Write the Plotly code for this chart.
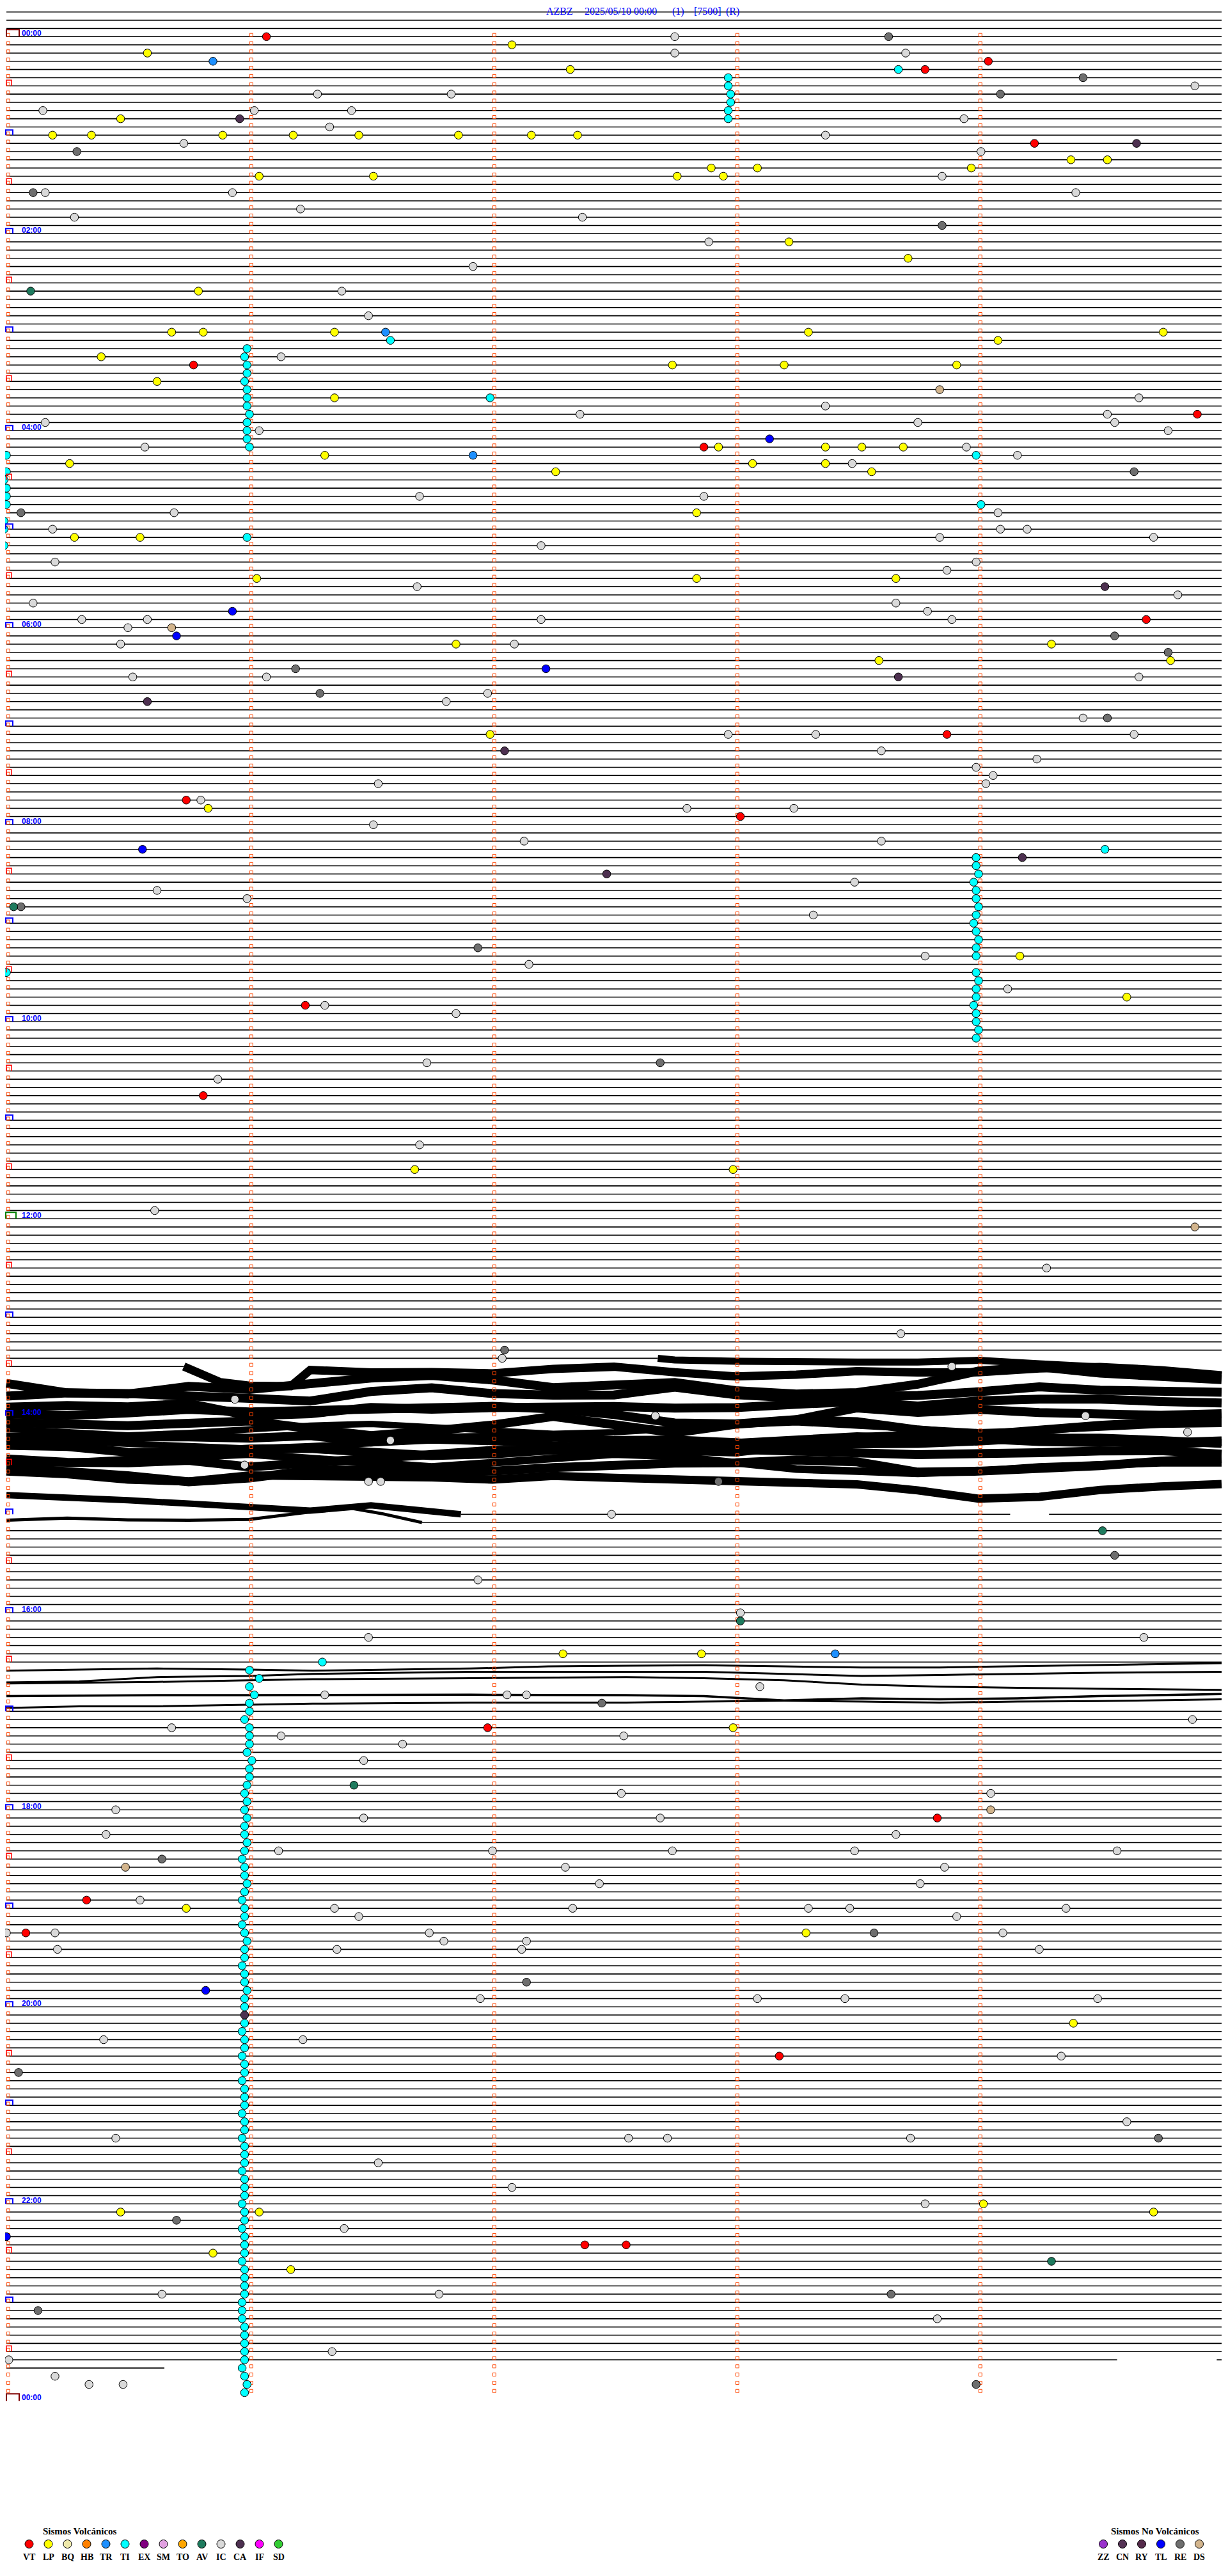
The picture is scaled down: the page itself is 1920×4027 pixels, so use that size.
import plotly.graph_objects as go

# ---------------- data ----------------
title_parts = ["AZBZ", "2025/05/10 00:00", "(1)", "[7500]", "(R)"]
title_left_px = [853, 913, 1050, 1084, 1134]

MIN_PER_LINE = 5
N_LINES = 288            # 24 h x 12 lines (5 min each)
LAST_TRACE_LINE = 284
minute_marks = [0, 1, 2, 3, 4]
hour_labels = ["00:00", "02:00", "04:00", "06:00", "08:00", "10:00", "12:00",
               "14:00", "16:00", "18:00", "20:00", "22:00", "00:00"]

volc_codes = ["VT", "LP", "BQ", "HB", "TR", "TI", "EX", "SM", "TO", "AV", "IC", "CA", "IF", "SD"]
nonvolc_codes = ["ZZ", "CN", "RY", "TL", "RE", "DS"]
type_color = {
    "VT": "#FF0000", "LP": "#FFFF00", "BQ": "#EEE8AA", "HB": "#FF8000", "TR": "#1E90FF",
    "TI": "#00FFFF", "EX": "#800080", "SM": "#E0A0E0", "TO": "#FFA500", "AV": "#1E7B5E",
    "IC": "#D9D9D9", "CA": "#4D3050", "IF": "#FF00FF", "SD": "#33CC33",
    "ZZ": "#9932CC", "CN": "#553355", "RY": "#552B4B", "TL": "#0000FF", "RE": "#6E6E6E",
    "DS": "#D2B48C",
}

# events: (line index [5-min rows from 00:00], minute inside the row)
vt_events = [(0, 1.07), (3, 4.04), (4, 3.78), (13, 4.23), (40, 0.77), (46, 4.90), (50, 2.87),
             (71, 4.69), (85, 3.87), (93, 0.74), (95, 3.02), (118, 1.23), (129, 0.81), (206, 1.98),
             (217, 3.83), (227, 0.33), (231, 0.08), (246, 3.18), (269, 2.38), (269, 2.55)]
lp_events = [(1, 2.08), (2, 0.58), (4, 2.32), (10, 0.47), (12, 0.19), (12, 0.35), (12, 0.89), (12, 1.18),
             (12, 1.45), (12, 1.86), (12, 2.16), (12, 2.35), (15, 4.38), (15, 4.53), (16, 2.90), (16, 3.09),
             (16, 3.97), (17, 1.04), (17, 1.51), (17, 2.76), (17, 2.95), (25, 3.22), (27, 3.71), (31, 0.79),
             (36, 0.68), (36, 0.81), (36, 1.35), (36, 3.30), (36, 4.76), (37, 4.08), (39, 0.39), (40, 2.74),
             (40, 3.20), (40, 3.91), (42, 0.62), (44, 1.35), (50, 2.93), (50, 3.37), (50, 3.52), (50, 3.69),
             (51, 1.31), (52, 0.26), (52, 3.07), (52, 3.37), (53, 2.26), (53, 3.56), (58, 2.84), (61, 0.28),
             (61, 0.55), (66, 1.03), (66, 2.84), (66, 3.66), (74, 1.85), (74, 4.30), (76, 3.59), (76, 4.79),
             (85, 1.99), (94, 0.83), (112, 4.17), (117, 4.61), (138, 1.68), (138, 2.99), (197, 2.29),
             (197, 2.86), (206, 2.99), (228, 0.74), (231, 3.29), (242, 4.39), (264, 4.02), (265, 0.47),
             (265, 1.04), (265, 4.72), (270, 0.85), (272, 1.17)]
tr_events = [(3, 0.85), (36, 1.56), (51, 1.92), (197, 3.41)]
tl_events = [(49, 3.14), (70, 0.93), (73, 0.70), (77, 2.22), (99, 0.56), (238, 0.82), (268, 0.0)]
ca_events = [(10, 0.96), (13, 4.65), (67, 4.52), (78, 3.67), (81, 0.58), (87, 2.05), (100, 4.18),
             (102, 2.47), (241, 0.98)]
re_events = [(0, 3.63), (5, 4.43), (7, 4.09), (14, 0.29), (19, 0.11), (23, 3.85), (53, 4.64), (58, 0.06),
             (73, 4.56), (75, 4.78), (77, 1.19), (80, 1.29), (83, 4.53), (106, 0.06), (111, 1.94),
             (125, 2.69), (160, 2.05), (176, 2.93), (185, 4.56), (203, 2.45), (222, 0.64), (231, 3.57),
             (237, 2.14), (248, 0.05), (256, 4.74), (266, 0.70), (275, 3.64), (277, 0.13), (286, 3.99)]
av_events = [(31, 0.10), (106, 0.03), (182, 4.51), (193, 3.02), (213, 1.43), (271, 4.30)]
ds_events = [(43, 3.84), (72, 0.68), (145, 4.89), (216, 4.05), (223, 0.49)]
ic_events = [(0, 2.75), (2, 2.75), (2, 3.70), (6, 4.89), (7, 1.28), (7, 1.83), (9, 0.15), (9, 1.02), (9, 1.42),
             (10, 3.94), (11, 1.33), (12, 3.37), (13, 0.73), (14, 4.01), (17, 3.85), (19, 0.16), (19, 0.93),
             (19, 4.40), (21, 1.21), (22, 0.28), (22, 2.37), (25, 2.89), (28, 1.92), (31, 1.38), (34, 1.49),
             (39, 1.13), (44, 4.66), (45, 3.37), (46, 2.36), (46, 4.53), (47, 0.16), (47, 3.75), (47, 4.56),
             (48, 1.04), (48, 4.78), (50, 0.57), (50, 3.95), (51, 4.16), (52, 3.48), (56, 1.70), (56, 2.87),
             (58, 0.69), (58, 4.08), (60, 0.19), (60, 4.09), (60, 4.20), (61, 3.84), (61, 4.72), (62, 2.20),
             (64, 0.20), (64, 3.99), (65, 3.87), (67, 1.69), (68, 4.82), (69, 0.11), (69, 3.66), (70, 3.79),
             (71, 0.31), (71, 0.58), (71, 2.20), (71, 3.89), (72, 0.50), (74, 0.47), (74, 2.09), (78, 0.52),
             (78, 1.07), (78, 4.66), (80, 1.98), (81, 1.81), (83, 4.43), (85, 2.97), (85, 3.33), (85, 4.64),
             (87, 3.60), (88, 4.24), (89, 3.99), (90, 4.06), (91, 1.53), (91, 4.03), (93, 0.80), (94, 2.80),
             (94, 3.24), (96, 1.51), (98, 2.13), (98, 3.60), (103, 3.49), (104, 0.62), (105, 0.99),
             (107, 3.32), (112, 3.78), (113, 2.15), (116, 4.12), (118, 1.31), (119, 1.85), (125, 1.73),
             (127, 0.87), (135, 1.70), (143, 0.61), (150, 4.28), (158, 3.68), (161, 2.04), (162, 3.89),
             (166, 0.94), (168, 2.67), (168, 4.44), (170, 4.86), (171, 1.58), (174, 0.98), (176, 1.49),
             (176, 1.54), (180, 2.49), (188, 1.94), (192, 3.02), (195, 1.49), (195, 4.68), (201, 3.10),
             (202, 1.31), (202, 2.06), (202, 2.14), (205, 4.88), (206, 0.68), (207, 1.13), (207, 2.54),
             (208, 1.63), (210, 1.47), (214, 2.53), (214, 4.05), (216, 0.45), (217, 1.47), (217, 2.69),
             (219, 0.41), (219, 3.66), (221, 1.12), (221, 2.00), (221, 2.74), (221, 3.49), (221, 4.57),
             (223, 2.30), (223, 3.86), (225, 2.44), (225, 3.76), (227, 0.55), (228, 1.35), (228, 2.33),
             (228, 3.30), (228, 3.47), (228, 4.36), (229, 1.45), (229, 3.91), (231, 0.0), (231, 0.20),
             (231, 1.74), (231, 4.10), (232, 1.80), (232, 2.14), (233, 0.21), (233, 1.36), (233, 2.12),
             (233, 4.25), (239, 1.95), (239, 3.09), (239, 3.45), (239, 4.49), (244, 0.40), (244, 1.22),
             (246, 4.34), (254, 4.61), (256, 0.45), (256, 2.56), (256, 2.72), (256, 3.72), (259, 1.53),
             (262, 2.08), (264, 3.78), (267, 1.39), (275, 0.64), (275, 1.78), (278, 3.83), (282, 1.34),
             (283, 0.01), (285, 0.20), (286, 0.34), (286, 0.48)]
ti_single = [(4, 3.67), (37, 1.58), (44, 1.99), (61, 0.99), (51, 3.99), (57, 4.01), (99, 4.52),
             (114, 0.0), (198, 1.30)]
ti_left_lines = [51, 53, 54, 55, 56, 57, 59, 60, 62]
ti_left_min = [0.0, 0.0, -0.01, 0.0, 0.0, 0.0, -0.01, -0.01, -0.01]
ti_a_lines = [5, 6, 7, 8, 9, 10]
ti_a_min = [2.97, 2.97, 2.98, 2.98, 2.97, 2.97]
ti_b_lines = [38, 39, 40, 41, 42, 43, 44, 45, 46, 47, 48, 49, 50]
ti_b_min = [0.99, 0.98, 0.99, 0.99, 0.98, 0.99, 0.99, 0.99, 1.0, 0.99, 0.99, 0.99, 1.0]
ti_c_lines = [100, 101, 102, 103, 104, 105, 106, 107, 108, 109, 110, 111, 112]
ti_c_min = [3.99, 3.99, 4.0, 3.98, 3.99, 3.99, 4.0, 3.99, 3.98, 3.99, 4.0, 3.99, 3.99]
ti_d_lines = [114, 115, 116, 117, 118, 119, 120, 121, 122]
ti_d_min = [3.99, 4.0, 3.99, 3.99, 3.98, 3.99, 3.99, 4.0, 3.99]
ti_e_lines = [k for k in range(199, 288) if k != 241]
ti_e_min = [1.0, 1.04, 1.0, 1.02, 1.0, 1.0, 0.98, 1.0, 1.0, 1.0, 0.99, 1.01, 1.0, 1.0, 0.99, 0.98,
            0.99, 0.98, 0.99, 0.98, 0.98, 0.99, 0.98, 0.97, 0.98, 0.98, 0.99, 0.98, 0.97, 0.98, 0.98,
            0.97, 0.98, 0.99, 0.98, 0.98, 0.97, 0.98, 0.98, 0.99, 0.98, 0.98,
            0.98, 0.97, 0.98, 0.98, 0.97, 0.98, 0.98, 0.97, 0.98, 0.98, 0.98, 0.97, 0.98, 0.98, 0.97,
            0.98, 0.98, 0.98, 0.97, 0.98, 0.98, 0.98, 0.97, 0.98, 0.98, 0.97, 0.98, 0.98, 0.98, 0.97, 0.98,
            0.98, 0.98, 0.98, 0.97, 0.97, 0.97, 0.98, 0.98, 0.98, 0.98, 0.98, 0.97, 0.98, 0.99, 0.98]

# seismogram trace amplitudes (in row units, + = downward) for the noisy rows
grid21 = [0, 0.25, 0.5, 0.75, 1.0, 1.25, 1.5, 1.75, 2.0, 2.25, 2.5, 2.75, 3.0, 3.25, 3.5, 3.75, 4.0,
          4.25, 4.5, 4.75, 5.0]
n161_m = [2.68, 2.75, 3.0, 3.25, 3.5, 3.75, 4.0, 4.25, 4.5, 4.75, 5.0]
n161_off = [0, 0.2, 0.35, 0.3, 0.45, 0.45, 0.25, 0.67, 1.08, 1.44, 2.07]
n162_m = [0.73, 0.88, 1.0, 1.17, 1.25, 1.5, 1.75, 2.0, 2.25, 2.5, 2.75, 3.0, 3.25, 3.5, 3.75, 4.0,
          4.25, 4.5, 4.75, 5.0]
n162_off = [0, 1.9, 2.34, 2.4, 0.42, 0.73, 0.68, 0.83, 0.29, 0.03, 0.70, 1.2, 1.0, 0.57, 0.73, 0.70,
            0.24, 0.05, 0.44, 1.07]
n163_off = [1.05, 2.2, 2.35, 1.42, 1.78, 1.13, 0.4, 0.09, 0.64, 1.57, 1.37, 0.95, 1.94, 2.35, 2.17, 1.16,
            -0.45, -0.95, -0.2, 0.2, 0.6]
n164_off = [1.61, 1.22, 1.3, 1.51, 1.87, 2.21, 1.04, 0.6, 1.3, 1.48, 1.46, 0.52, 1.43, 1.82, 1.69, 1.53,
            1.07, 0.47, 0.88, 1.01, 1.14]
n165_off = [1.94, 1.75, 1.91, 1.5, 3.0, 2.74, 1.99, 2.2, 2.01, 1.81, 1.88, 2.07, 2.01, 1.6, 1.26, 1.81,
            1.18, 0.97, 0.97, 1.26, 1.44]
n166_off = [1.77, 1.98, 1.66, 1.22, 1.53, 1.38, 1.12, 0.88, 0.86, 1.17, 1.85, 2.88, 2.99, 2.47, 1.04, 1.59,
            1.22, 1.61, 1.82, 1.95, 1.74]
n167_off = [1.81, 2.01, 2.2, 1.91, 1.65, 2.56, 3.42, 2.85, 2.12, 1.08, 2.07, 3.08, 2.04, 1.5, 1.73, 2.72,
            3.34, 2.69, 2.17, 1.78, 1.78]
n168_off = [2.6, 2.6, 2.42, 2.57, 2.73, 2.42, 3.2, 2.75, 2.6, 2.6, 3.01, 2.96, 3.27, 3.92, 3.4, 3.38,
            3.07, 2.65, 3.04, 3.59, 3.12]
n169_off = [2.61, 2.74, 3.44, 3.49, 3.05, 2.98, 3.44, 3.86, 3.65, 3.16, 2.98, 3.26, 3.42, 2.61, 1.65, 1.34,
            1.96, 1.73, 1.73, 2.01, 2.38]
n170_off = [3.25, 3.66, 3.72, 3.43, 4.23, 3.74, 3.2, 2.73, 2.21, 2.16, 2.57, 1.9, 2.03, 2.31, 2.52, 2.73,
            2.68, 2.5, 2.29, 2.24, 2.68]
n171_off = [3.29, 3.78, 4.3, 5.05, 4.59, 3.65, 3.52, 3.73, 3.75, 3.31, 3.0, 2.77, 2.72, 2.4, 2.61, 3.86,
            3.75, 3.55, 3.08, 2.53, 2.2]
n172_off = [2.78, 3.12, 3.77, 4.0, 3.27, 3.27, 3.27, 3.51, 3.77, 3.33, 3.56, 3.79, 3.79, 4.1, 4.36, 5.09,
            6.1, 5.87, 5.04, 4.62, 4.31]
n173_off = [0.72, 0.72, 0.33, -0.06, -0.32, 0.2, 0.72, 1.23, 0.72, 0.2, -0.32, -0.06, 0.72, 1.49, 1.75,
            2.01, 1.75, 1.23, 0.98, 0.72, 0.72]
n174_off = [-3.2, -2.9, -2.5, -2.2, -2.0, -2.3, -2.7, -3.0, -2.8, -2.5, -2.2, -2.4, -2.8, -3.3, -3.6,
            -3.4, -3.0, -2.7, -2.6, -2.9, -3.1]
n175_off = [-5.4, -5.0, -4.6, -4.9, -5.3, -5.8, -6.0, -5.6, -5.1, -4.8, -5.0, -5.5, -5.9, -6.2, -5.8,
            -5.3, -5.0, -5.2, -5.6, -5.9, -6.0]
n180_m = [0, 0.25, 0.5, 0.75, 1.0, 1.25, 1.5, 1.75, 1.87]
n180_off = [-2.34, -2.1, -1.71, -1.3, -0.83, -0.44, -1.09, -0.31, 0]
n181_m = [0, 0.25, 0.5, 0.75, 1.0, 1.25, 1.4, 1.55, 1.71]
n181_off = [-0.27, -0.53, -0.32, -0.27, -0.38, -1.31, -1.83, -1.05, 0]
grid15 = [0, 0.3, 0.62, 1.0, 1.26, 1.91, 2.23, 2.55, 2.87, 3.2, 3.52, 3.84, 4.16, 4.49, 5.0]
n199_off = [0.05, -0.08, -0.21, -0.08, 0.05, -0.21, -0.47, -0.55, -0.6, -0.47, -0.34, -0.34, -0.47, -0.6, -0.86]
n200_off = [0.48, 0.35, -0.17, -0.3, -0.56, -0.82, -0.82, -0.82, -0.82, -0.56, -0.3, -0.43, -0.56, -0.69, -0.82]
n201_off = [-0.39, -0.47, -0.58, -0.78, -0.91, -1.04, -1.1, -1.17, -1.04, -0.78, -0.26, 0.0, 0.13, 0.26, 0.39]
n202_off = [0.16, 0.09, 0.03, 0.03, 0.01, -0.02, 0.01, 0.03, 0.16, 0.68, 0.42, 0.55, 0.42, 0.16, -0.1]
n203_off = [0.59, 0.39, 0.39, 0.2, 0.07, -0.06, -0.06, -0.06, -0.19, -0.29, -0.19, -0.06, -0.19, -0.24, -0.45]

# flat (quiet) parts of rows that are not whole-row flat
flat_parts = {161: [(0, 2.68)], 162: [(0, 0.73)], 180: [(1.87, 4.13), (4.29, 5)], 181: [(1.71, 5)],
              283: [(0, 4.57), (4.98, 5)], 284: [(0, 0.65)]}
no_flat_rows = list(range(163, 180)) + [199, 200, 201, 202, 203]

# ---------------- geometry (layout only) ----------------
PX_PER_MIN = 380.0
PX_PER_LINE = 12.833
X_ORIGIN = 10.0
Y_ORIGIN = 57.3
PAGE_OFF = 8
FIG_W, FIG_H = 1904, 4011


def mx(px):
    return (px - X_ORIGIN) / PX_PER_MIN


def ly(py):
    return (py - Y_ORIGIN) / PX_PER_LINE


DX = 1 / PX_PER_MIN
DY = 1 / PX_PER_LINE

fig = go.Figure()

# ---- quiet trace lines ----
xs, ys = [], []
for k in range(-4, LAST_TRACE_LINE + 1):
    if k in no_flat_rows:
        continue
    parts = flat_parts.get(k, [(0, MIN_PER_LINE)])
    for a, b in parts:
        xs += [a, b, None]
        ys += [k, k, None]
fig.add_trace(go.Scatter(x=xs, y=ys, mode="lines", line=dict(color="black", width=1.6),
                         hoverinfo="skip", showlegend=False))

# ---- noisy trace segments ----
noise_traces = [
    (161, n161_m, n161_off, 11), (162, n162_m, n162_off, 13), (163, grid21, n163_off, 14),
    (164, grid21, n164_off, 14), (165, grid21, n165_off, 14), (166, grid21, n166_off, 14),
    (167, grid21, n167_off, 14), (168, grid21, n168_off, 14), (169, grid21, n169_off, 14),
    (170, grid21, n170_off, 14), (171, grid21, n171_off, 14), (172, grid21, n172_off, 13),
    (173, grid21, n173_off, 12), (174, grid21, n174_off, 10), (175, grid21, n175_off, 10),
    (180, n180_m, n180_off, 10), (181, n181_m, n181_off, 5),
    (199, grid15, n199_off, 3), (200, grid15, n200_off, 3), (201, grid15, n201_off, 3),
    (202, grid15, n202_off, 3.5), (203, grid15, n203_off, 3),
]
for k, mm, off, w in noise_traces:
    fig.add_trace(go.Scatter(x=mm, y=[k + o for o in off], mode="lines",
                             line=dict(color="black", width=w), hoverinfo="skip", showlegend=False))

# ---- minute tick marks ----
tx, ty = [], []
for k in range(N_LINES):
    for m in minute_marks:
        tx.append(m + 2.75 * DX)
        ty.append(k - 2.6 * DY)
fig.add_trace(go.Scatter(x=tx, y=ty, mode="markers",
                         marker=dict(symbol="square-open", size=5, color="#FF4500", line=dict(width=1)),
                         hoverinfo="skip", showlegend=False))

# ---- half-hour and hour brackets ----
shapes = []


def bracket(k, w_px, h_px, x0_px, color, lw):
    x0 = x0_px * DX
    x1 = (x0_px + w_px) * DX
    y1 = k - h_px * DY
    return dict(type="path", xref="x", yref="y",
                path=f"M {x0},{k} L {x0},{y1} L {x1},{y1} L {x1},{k}",
                line=dict(color=color, width=lw))


for h in range(24):
    shapes.append(bracket(h * 12 + 6, 8, 9, 0, "#FF0000", 1.5))
for h in range(25):
    k = h * 12
    if h % 24 == 0:
        shapes.append(bracket(k, 20, 11, 0, "#800000", 2))
    elif h == 12:
        shapes.append(bracket(k, 16, 10, -1, "#008000", 2))
    else:
        shapes.append(bracket(k, 11, 8, -1, "#0000FF", 2))


# ---- events ----
def add_events(pairs, code, size=12.5):
    fig.add_trace(go.Scatter(x=[p[1] for p in pairs], y=[p[0] for p in pairs], mode="markers",
                             marker=dict(size=size, color=type_color[code],
                                         line=dict(color="black", width=1)),
                             hoverinfo="skip", showlegend=False))


add_events(ic_events, "IC")
add_events(lp_events, "LP")
add_events(vt_events, "VT")
add_events(tr_events, "TR")
add_events(tl_events, "TL")
add_events(re_events, "RE")
add_events(av_events, "AV")
add_events(ds_events, "DS")
ti_all = (ti_single + list(zip(ti_left_lines, ti_left_min)) + list(zip(ti_a_lines, ti_a_min))
          + list(zip(ti_b_lines, ti_b_min)) + list(zip(ti_c_lines, ti_c_min))
          + list(zip(ti_d_lines, ti_d_min)) + list(zip(ti_e_lines, ti_e_min)))
add_events(ti_all, "TI")
add_events(ca_events, "CA")

# ---- legend swatches ----
lx = [mx(45.5 + 30 * i) for i in range(len(volc_codes))] + \
     [mx(1725 + 30 * i) for i in range(len(nonvolc_codes))]
lcodes = volc_codes + nonvolc_codes
fig.add_trace(go.Scatter(x=lx, y=[ly(3977)] * len(lx), mode="markers",
                         marker=dict(size=13, color=[type_color[c] for c in lcodes],
                                     line=dict(color="black", width=1)),
                         hoverinfo="skip", showlegend=False))

annotations = []
serif = "Liberation Serif, Times New Roman, serif"
sans = "Liberation Sans, Arial, sans-serif"
for txt, xl in zip(title_parts, title_left_px):
    annotations.append(dict(x=mx(xl), y=ly(PAGE_OFF), xref="x", yref="y", text=txt, showarrow=False,
                            xanchor="left", yanchor="top", borderpad=0,
                            font=dict(family=serif, size=16, color="#0000FF")))
for i, lab in enumerate(hour_labels):
    k = i * 24
    annotations.append(dict(x=mx(32), y=k - 0.44, xref="x", yref="y", text=f"<b>{lab}</b>",
                            showarrow=False, xanchor="left", yanchor="middle",
                            font=dict(family=sans, size=12, color="#0000FF")))
annotations.append(dict(x=mx(124.5), y=ly(3957), xref="x", yref="y", text="<b>Sismos Volcánicos</b>",
                        showarrow=False, xanchor="center", yanchor="middle",
                        font=dict(family=serif, size=15, color="black")))
annotations.append(dict(x=mx(1806), y=ly(3957), xref="x", yref="y", text="<b>Sismos No Volcánicos</b>",
                        showarrow=False, xanchor="center", yanchor="middle",
                        font=dict(family=serif, size=15, color="black")))
for x, c in zip(lx, lcodes):
    annotations.append(dict(x=x, y=ly(3997), xref="x", yref="y", text=f"<b>{c}</b>", showarrow=False,
                            xanchor="center", yanchor="middle",
                            font=dict(family=serif, size=14, color="black")))

fig.update_layout(
    width=FIG_W, height=FIG_H, margin=dict(l=0, r=0, t=0, b=0),
    paper_bgcolor="white", plot_bgcolor="white", showlegend=False,
    xaxis=dict(range=[mx(PAGE_OFF), mx(PAGE_OFF + FIG_W)], visible=False, fixedrange=True),
    yaxis=dict(range=[ly(PAGE_OFF + FIG_H), ly(PAGE_OFF)], visible=False, fixedrange=True),
    shapes=shapes, annotations=annotations,
)

fig.write_html("out.html")
